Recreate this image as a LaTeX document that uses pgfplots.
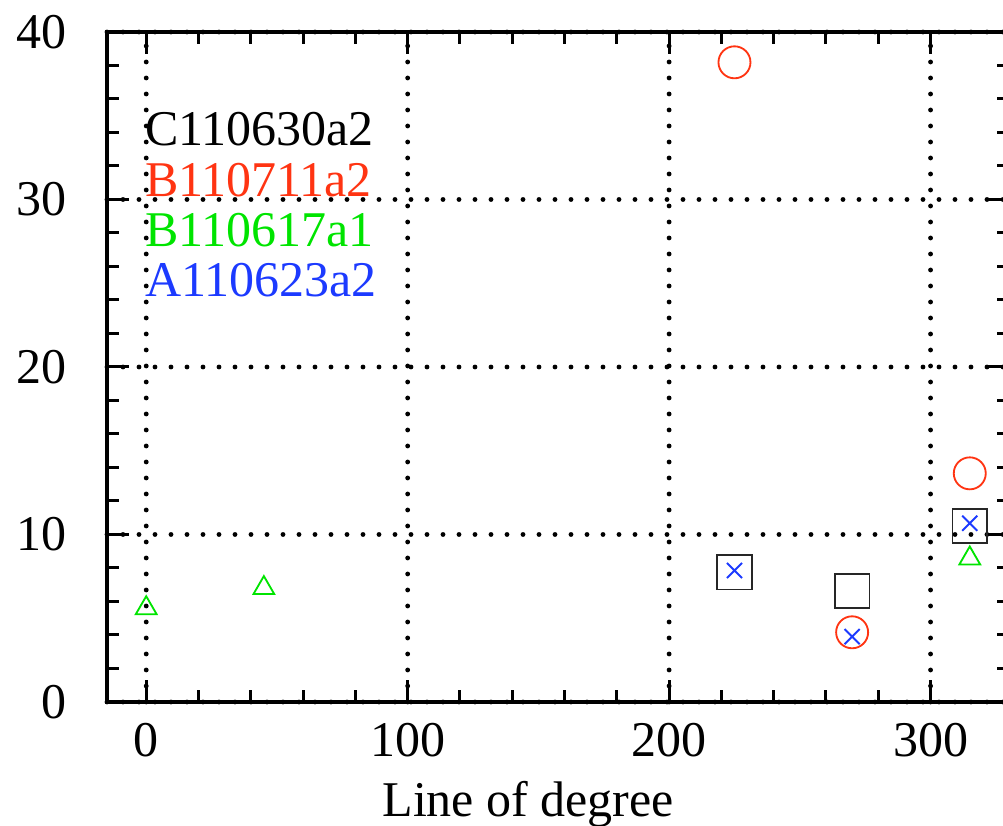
\documentclass[border=0pt]{standalone}
\usepackage{fontspec}
\setmainfont{Liberation Serif}
\usepackage{pgfplots}
\pgfplotsset{compat=1.18}

\definecolor{serC}{RGB}{0,0,0}
\definecolor{serBr}{RGB}{255,52,18}
\definecolor{serBg}{RGB}{0,228,0}
\definecolor{serA}{RGB}{28,58,255}

\begin{document}
\fontsize{15}{18}\selectfont
\begin{tikzpicture}
\begin{axis}[
  name=ax,
  scale only axis,
  width=270.6pt, height=201pt,
  xmin=-15, xmax=330,
  ymin=0, ymax=40,
  xtick={0,100,200,300},
  ytick={0,10,20,30,40},
  minor x tick num=4,
  minor y tick num=4,
  tick align=inside,
  major tick length=6.6pt,
  minor tick length=3.6pt,
  every tick/.style={line width=0.9pt, black},
  axis line style={line width=1.2pt},
  grid=major,
  major grid style={black, line width=1.45pt, line cap=round, dash pattern=on 0pt off 4.8pt},
  /pgf/number format/assume math mode=true,
  tick label style={font=\fontsize{15}{18}\selectfont},
  xticklabel style={yshift=-1.3pt},
  yticklabel style={xshift=-7pt},
  xlabel={Line of degree},
  xlabel style={at={(axis description cs:0.467,0)}, anchor=base, yshift=-34.5pt, inner sep=0pt, font=\fontsize{15}{18}\selectfont},
  clip=false,
]
% C110630a2: black squares
\addplot[only marks, mark=square, mark size=5.2pt, draw=black!85, line width=0.55pt]
  coordinates {(225,7.75) (270,6.63) (315,10.51)};
% B110711a2: red circles
\addplot[only marks, mark=o, mark size=4.8pt, draw=serBr, line width=0.55pt]
  coordinates {(225,38.19) (270,4.16) (315,13.65)};
% B110617a1: green triangles
\addplot[only marks, mark=triangle, mark size=3.6pt, draw=serBg, line width=0.55pt]
  coordinates {(0,5.6) (45,6.8) (315,8.57)};
% A110623a2: blue crosses
\addplot[only marks, mark=x, mark size=3.2pt, draw=serA, line width=0.55pt]
  coordinates {(225,7.85) (270,3.9) (315,10.67)};

\node[anchor=base west, inner sep=0pt, text=serC]  at (axis cs:-0.7,33.2) {C110630a2};
\node[anchor=base west, inner sep=0pt, text=serBr] at (axis cs:-0.7,30.2) {B110711a2};
\node[anchor=base west, inner sep=0pt, text=serBg] at (axis cs:-0.7,27.2) {B110617a1};
\node[anchor=base west, inner sep=0pt, text=serA]  at (axis cs:-0.7,24.2) {A110623a2};
\end{axis}
\pgfresetboundingbox
\path ([shift={(-32.1pt,-37.2pt)}]ax.south west) rectangle ([shift={(268.8pt,210.6pt)}]ax.south west);
\end{tikzpicture}
\end{document}
